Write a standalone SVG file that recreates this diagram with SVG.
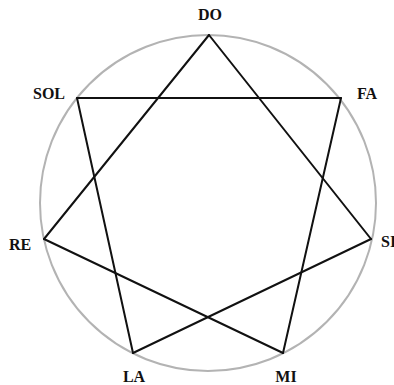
<svg xmlns="http://www.w3.org/2000/svg" width="394" height="385" viewBox="0 0 394 385">
<style>
.lbl{font-family:"Liberation Serif","Times New Roman",serif;font-weight:bold;font-size:16px;fill:#111}
.edge{stroke:#111;stroke-width:2;fill:none;stroke-linecap:round;stroke-linejoin:round}
.circ{stroke:#b3b3b3;stroke-width:2;fill:none}
</style>
<rect width="394" height="385" fill="#fff"/>
<circle class="circ" cx="208" cy="203" r="168"/>
<g id="connectors">
<line class="edge" x1="209" y1="35" x2="371" y2="239"/>
<line class="edge" x1="371" y1="239" x2="133" y2="353"/>
<line class="edge" x1="133" y1="353" x2="77" y2="98"/>
<line class="edge" x1="77" y1="98" x2="341" y2="98"/>
<line class="edge" x1="341" y1="98" x2="283" y2="353"/>
<line class="edge" x1="283" y1="353" x2="44" y2="239"/>
<line class="edge" x1="44" y1="239" x2="209" y2="35"/>
</g>
<g id="DO"><text class="lbl" x="210" y="19.5" text-anchor="middle">DO</text></g>
<g id="FA"><text class="lbl" x="357" y="99">FA</text></g>
<g id="SI"><text class="lbl" x="381" y="247">SI</text></g>
<g id="MI"><text class="lbl" x="286" y="382" text-anchor="middle">MI</text></g>
<g id="LA"><text class="lbl" x="134" y="382" text-anchor="middle">LA</text></g>
<g id="RE"><text class="lbl" x="9" y="250">RE</text></g>
<g id="SOL"><text class="lbl" x="33" y="99">SOL</text></g>
</svg>
